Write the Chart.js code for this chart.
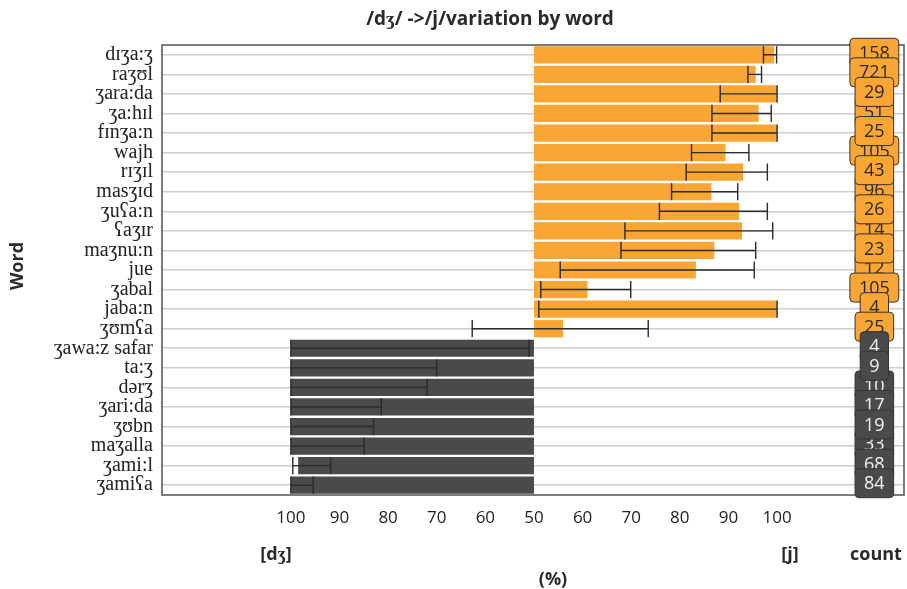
<!DOCTYPE html>
<html>
<head>
<meta charset="utf-8">
<script src="https://cdn.jsdelivr.net/npm/chart.js@4"></script>
<style>
  body { margin: 0; background: #fff; }
  #wrap { width: 907px; height: 589px; }
</style>
</head>
<body>
<div id="wrap"><canvas id="chart" width="907" height="589"></canvas></div>
<script>
// --- data ---
const words = ["dɪʒa:ʒ","raʒʊl","ʒara:da","ʒa:hɪl","fɪnʒa:n","wajh","rɪʒɪl","masʒɪd","ʒuʕa:n","ʕaʒɪr","maʒnu:n","jue","ʒabal","jaba:n","ʒʊmʕa",
  "ʒawa:z safar","ta:ʒ","dərʒ","ʒari:da","ʒʊbn","maʒalla","ʒami:l","ʒamiʕa"];
const variant = ["j","j","j","j","j","j","j","j","j","j","j","j","j","j","j",
  "dʒ","dʒ","dʒ","dʒ","dʒ","dʒ","dʒ","dʒ"];
// percent of the majority variant, with its interval
const percent = [99.4,95.6,100,96.2,100,89.4,93.0,86.5,92.2,92.8,87.1,83.3,61.0,100,56.0,
  100,100,100,100,100,100,98.5,100];
const ciLow = [97.2,94.0,88.3,86.6,86.6,82.4,81.3,78.3,75.8,68.7,67.9,55.4,51.4,51.0,37.3,
  51.0,70.0,72.0,81.4,83.0,84.9,91.8,95.4];
const ciHigh = [99.9,96.8,100,98.8,100,94.2,98.0,91.9,98.0,99.1,95.6,95.3,69.9,100,73.5,
  100,100,100,100,100,100,99.6,100];
const counts = [158,721,29,51,25,105,43,96,26,14,23,12,105,4,25,4,9,10,17,19,33,68,84];
const tickLabels = [100,90,80,70,60,50,60,70,80,90,100];

const orange = "#F9A634";
const dark = "#4A4A4C";

// 50% sits in the middle, dʒ grows to the left, j to the right
function pos(p, v){ return v==="j" ? p-50 : 50-p; }
const tickValues = tickLabels.map((t,i)=> i<5 ? -(t-50) : (t-50));

const barValues = percent.map((p,i)=>pos(p,variant[i]));
const barColors = variant.map(v=> v==="j" ? orange : dark);

const labelsBehind = [3,5,7,9,11,17,20,21];

// --- plugins ---
const errorBars = {
  id: "errorBars",
  afterDatasetsDraw(chart){
    const {ctx, scales:{x,y}} = chart;
    const meta = chart.getDatasetMeta(0);
    ctx.save();
    ctx.strokeStyle = "#2b2b2b";
    ctx.lineWidth = 1.4;
    words.forEach((w,i)=>{
      const yc = y.getPixelForValue(i);
      const half = meta.data[i].height/2;
      const x1 = x.getPixelForValue(pos(ciLow[i],variant[i]));
      const x2 = x.getPixelForValue(pos(ciHigh[i],variant[i]));
      ctx.beginPath();
      ctx.moveTo(x1,yc); ctx.lineTo(x2,yc);
      ctx.moveTo(x1,yc-half); ctx.lineTo(x1,yc+half);
      ctx.moveTo(x2,yc-half); ctx.lineTo(x2,yc+half);
      ctx.stroke();
    });
    ctx.restore();
  }
};

function roundRect(ctx,x,y,w,h,r){
  ctx.beginPath();
  ctx.moveTo(x+r,y);
  ctx.arcTo(x+w,y,x+w,y+h,r);
  ctx.arcTo(x+w,y+h,x,y+h,r);
  ctx.arcTo(x,y+h,x,y,r);
  ctx.arcTo(x,y,x+w,y,r);
  ctx.closePath();
}

const countLabels = {
  id: "countLabels",
  afterDraw(chart){
    const {ctx, scales:{x,y}} = chart;
    const xc = x.getPixelForValue(70);
    ctx.save();
    ctx.font = "18px 'Open Sans'";
    ctx.textAlign = "center";
    ctx.textBaseline = "middle";
    const order = labelsBehind.concat(counts.map((c,i)=>i).filter(i=>!labelsBehind.includes(i)));
    order.forEach(i=>{
      const txt = String(counts[i]);
      const yc = y.getPixelForValue(i)-2;
      const w = ctx.measureText(txt).width+18, h = 29;
      roundRect(ctx, xc-w/2, yc-h/2, w, h, 4);
      ctx.fillStyle = variant[i]==="j" ? orange : dark;
      ctx.fill();
      ctx.strokeStyle = "#333";
      ctx.lineWidth = 1;
      ctx.stroke();
      ctx.fillStyle = variant[i]==="j" ? "#2a2a2a" : "#f2f2f2";
      ctx.fillText(txt, xc, yc+1);
    });
    ctx.restore();
  }
};

const frameAndText = {
  id: "frameAndText",
  afterDatasetsDraw(chart){
    const {ctx, chartArea:a} = chart;
    ctx.save();
    ctx.strokeStyle = "#5a5a5a";
    ctx.lineWidth = 1.6;
    ctx.strokeRect(a.left, a.top, a.right-a.left, a.bottom-a.top);
    ctx.restore();
  },
  afterDraw(chart){
    const {ctx} = chart;
    ctx.save();
    ctx.fillStyle = "#2a2a2a";
    ctx.textAlign = "center";
    ctx.textBaseline = "middle";
    ctx.font = "bold 19px 'Open Sans'";
    ctx.fillText("/dʒ/ ->/j/variation by word", 490, 20);
    ctx.font = "bold 18px 'Open Sans'";
    ctx.fillText("[dʒ]", 276, 555);
    ctx.fillText("[j]", 790, 555);
    ctx.fillText("count", 876, 555);
    ctx.fillText("(%)", 553, 580);
    ctx.translate(18, 266);
    ctx.rotate(-Math.PI/2);
    ctx.fillText("Word", 0, 0);
    ctx.restore();
  }
};

new Chart(document.getElementById("chart"), {
  type: "bar",
  data: {
    labels: words,
    datasets: [{
      data: barValues,
      backgroundColor: barColors,
      borderWidth: 0,
      barPercentage: 0.88,
      categoryPercentage: 1
    }]
  },
  options: {
    indexAxis: "y",
    responsive: false,
    animation: false,
    layout: { padding: { top: 45, right: 3, left: 0, bottom: 0 } },
    plugins: { legend: { display: false }, title: { display: false }, tooltip: { enabled: false } },
    scales: {
      x: {
        type: "linear",
        min: -76.5,
        max: 76.1,
        afterBuildTicks(s){ s.ticks = tickValues.map(v=>({value:v})); },
        afterFit(s){ s.height = 94; },
        grid: { display: false, drawTicks: false },
        border: { display: false },
        ticks: {
          autoSkip: false,
          maxRotation: 0,
          padding: 13,
          color: "#222",
          font: { family: "'Open Sans'", size: 17 },
          callback(v){ const i = tickValues.indexOf(v); return i>=0 ? tickLabels[i] : ""; }
        }
      },
      y: {
        afterFit(s){ s.width = 162; },
        grid: { offset: false, color: "#cdcdcd", lineWidth: 1.6, drawTicks: false },
        border: { display: false },
        ticks: {
          autoSkip: false,
          padding: 9,
          color: "#222",
          font: { family: "'Liberation Serif', 'DejaVu Serif', serif", size: 20 }
        }
      }
    }
  },
  plugins: [errorBars, frameAndText, countLabels]
});
</script>
</body>
</html>
